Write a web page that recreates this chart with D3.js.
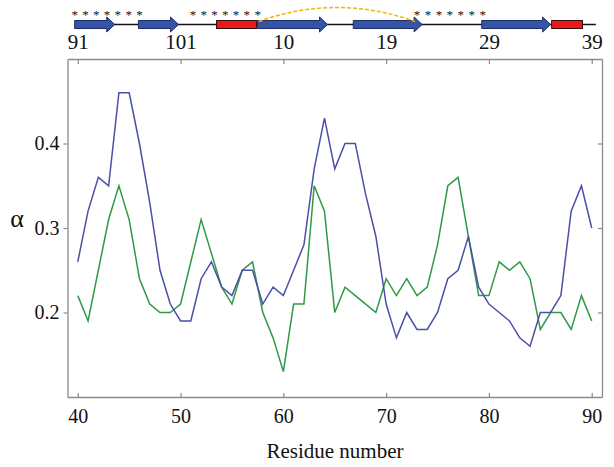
<!DOCTYPE html>
<html>
<head>
<meta charset="utf-8">
<script src="https://cdn.jsdelivr.net/npm/d3@7"></script>
<style>
  body { margin: 0; background: #fff; -webkit-font-smoothing: antialiased; }
  svg text { font-family: "Liberation Serif", "DejaVu Serif", "Times New Roman", Times, serif; fill: #111; }
</style>
</head>
<body>
<div class="container"></div>
<script>
// residue numbers on the bottom axis, and the alternate numbering on top
var residues = d3.range(40, 91);
var bottomTicks = [40, 50, 60, 70, 80, 90];
var topLabels = ["91", "101", "10", "19", "29", "39"];
var yTicks = [0.2, 0.3, 0.4];

// alpha per residue
var blueVals = [0.26, 0.32, 0.36, 0.35, 0.46, 0.46, 0.40, 0.33, 0.25, 0.21,
                0.19, 0.19, 0.24, 0.26, 0.23, 0.22, 0.25, 0.25, 0.21, 0.23,
                0.22, 0.25, 0.28, 0.37, 0.43, 0.37, 0.40, 0.40, 0.34, 0.29,
                0.21, 0.17, 0.20, 0.18, 0.18, 0.20, 0.24, 0.25, 0.29, 0.23,
                0.21, 0.20, 0.19, 0.17, 0.16, 0.20, 0.20, 0.22, 0.32, 0.35,
                0.30];
var greenVals = [0.22, 0.19, 0.25, 0.31, 0.35, 0.31, 0.24, 0.21, 0.20, 0.20,
                 0.21, 0.26, 0.31, 0.27, 0.23, 0.21, 0.25, 0.26, 0.20, 0.17,
                 0.13, 0.21, 0.21, 0.35, 0.32, 0.20, 0.23, 0.22, 0.21, 0.20,
                 0.24, 0.22, 0.24, 0.22, 0.23, 0.28, 0.35, 0.36, 0.29, 0.22,
                 0.22, 0.26, 0.25, 0.26, 0.24, 0.18, 0.20, 0.20, 0.18, 0.22,
                 0.19];

// secondary structure, in bottom-axis residue units
var backbone = [39.7, 90.4];
var strands = [[39.7, 43.6], [45.9, 49.8], [57.5, 64.3], [66.8, 73.5], [79.3, 86.0]];
var helices = [[53.5, 57.4], [86.1, 89.1]];
var starGroups = [[39.7, 46.0], [51.2, 57.5], [73.0, 79.4]];
var loopArc = [57.6, 72.8];

var width = 614, height = 467;
var svg = d3.select(".container").append("svg").attr("width", width).attr("height", height);

var x = d3.scaleLinear().domain([39, 91]).range([67.5, 602]);
var y = d3.scaleLinear().domain([0.1, 0.5]).range([397, 59]);

var axisColor = "#8a8a8a";
var serif = '"Liberation Serif", "DejaVu Serif", "Times New Roman", Times, serif';

// frame + axes
var bottom = svg.append("g").attr("transform", "translate(0,397)")
  .call(d3.axisBottom(x).tickValues(bottomTicks).tickSizeInner(-4).tickSizeOuter(0).tickPadding(12));
var top_ = svg.append("g").attr("transform", "translate(0,59)")
  .call(d3.axisTop(x).tickValues(bottomTicks).tickFormat(function(d, i) { return topLabels[i]; })
    .tickSizeInner(-5).tickSizeOuter(0).tickPadding(10));
var left = svg.append("g").attr("transform", "translate(67.5,0)")
  .call(d3.axisLeft(y).tickValues(yTicks).tickFormat(d3.format(".1f")).tickSizeInner(4).tickSizeOuter(0).tickPadding(4));
var right = svg.append("g").attr("transform", "translate(602,0)")
  .call(d3.axisRight(y).tickValues(yTicks).tickFormat("").tickSizeInner(-4).tickSizeOuter(0));

[bottom, top_, left, right].forEach(function(g) {
  g.attr("font-family", serif);
  g.select(".domain").attr("stroke", axisColor).attr("stroke-width", 1.3);
  g.selectAll(".tick line").attr("stroke", axisColor).attr("stroke-width", 1.2);
  g.selectAll(".tick text").attr("fill", "#111").attr("font-size", 20);
});
top_.selectAll(".tick text").attr("font-size", 21);

// axis titles
svg.append("text").attr("x", 335).attr("y", 458).attr("text-anchor", "middle")
  .attr("font-size", 21).text("Residue number");
svg.append("text").attr("x", 17).attr("y", 227).attr("text-anchor", "middle")
  .attr("font-size", 26).text("α");

// data lines
var line = function(vals) {
  return d3.line().x(function(d, i) { return x(residues[i]); }).y(function(d) { return y(d); })(vals);
};
svg.append("path").attr("d", line(greenVals)).attr("fill", "none")
  .attr("stroke", "#2e9a45").attr("stroke-width", 1.5);
svg.append("path").attr("d", line(blueVals)).attr("fill", "none")
  .attr("stroke", "#4a50a8").attr("stroke-width", 1.5);

// secondary structure track
var ssY = 24.5;
var ss = svg.append("g");
ss.append("line").attr("x1", x(backbone[0])).attr("x2", x(backbone[1]))
  .attr("y1", ssY).attr("y2", ssY).attr("stroke", "#111").attr("stroke-width", 1.5);

ss.selectAll("path.strand").data(strands).enter().append("path")
  .attr("class", "strand")
  .attr("d", function(d) {
    var x0 = x(d[0]), x1 = x(d[1]), hx = x1 - 8;
    return "M" + x0 + "," + (ssY - 4) + "L" + hx + "," + (ssY - 4) + "L" + hx + "," + (ssY - 7.5) +
      "L" + x1 + "," + ssY + "L" + hx + "," + (ssY + 7.5) + "L" + hx + "," + (ssY + 4) +
      "L" + x0 + "," + (ssY + 4) + "Z";
  })
  .attr("fill", "#3454a6").attr("stroke", "#1e2d66").attr("stroke-width", 1);

ss.selectAll("rect.helix").data(helices).enter().append("rect")
  .attr("class", "helix")
  .attr("x", function(d) { return x(d[0]); }).attr("width", function(d) { return x(d[1]) - x(d[0]); })
  .attr("y", ssY - 4).attr("height", 8)
  .attr("fill", "#e8191c").attr("stroke", "#3a0a0a").attr("stroke-width", 1);

// dashed loop arc
var ax0 = x(loopArc[0]), ax1 = x(loopArc[1]);
ss.append("path")
  .attr("d", "M" + ax0 + "," + (ssY - 3) + "Q" + ((ax0 + ax1) / 2) + "," + (ssY - 31) + " " + ax1 + "," + (ssY - 3))
  .attr("fill", "none").attr("stroke", "#f2b400").attr("stroke-width", 1.5).attr("stroke-dasharray", "4,2");

// asterisks
starGroups.forEach(function(g) {
  var step = (g[1] - g[0]) / 6;
  ss.selectAll(null).data(d3.range(7)).enter().append("text")
    .attr("x", function(i) { return x(g[0] + i * step); }).attr("y", 18.5)
    .attr("text-anchor", "middle").attr("font-size", 13).text("*");
});
</script>
</body>
</html>
